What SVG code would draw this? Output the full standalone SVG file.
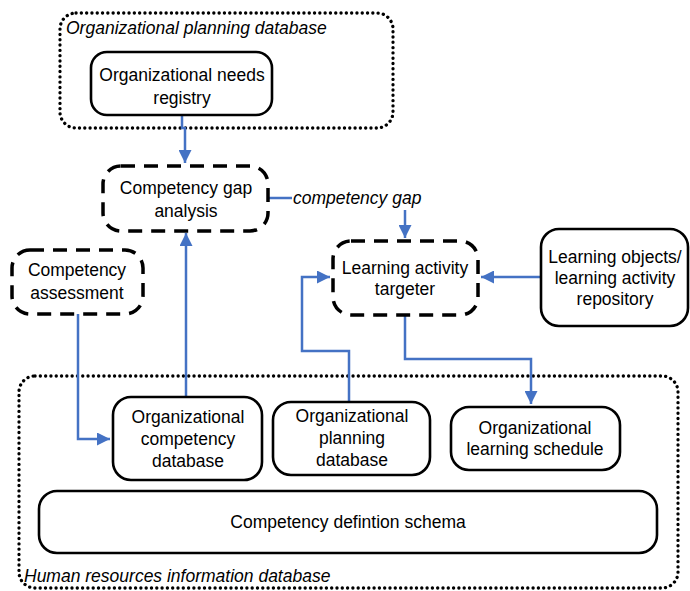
<svg xmlns="http://www.w3.org/2000/svg" width="690" height="591" viewBox="0 0 690 591">
<style>
text{font-family:"Liberation Sans",Arial,sans-serif;font-size:17.5px;fill:#000}
.t{text-anchor:middle}
.it{font-style:italic}
.solid{fill:#fff;stroke:#000;stroke-width:2.6}
.dash{fill:#fff;stroke:#000;stroke-width:3.5;stroke-dasharray:14 9}
.dot{fill:none;stroke:#000;stroke-width:3.3;stroke-dasharray:0.1 5.2;stroke-linecap:round}
.c{fill:none;stroke:#4472C4;stroke-width:2.5}
</style>
<defs>
<marker id="ah" viewBox="0 0 10 10" refX="10" refY="5" markerWidth="5.5" markerHeight="5.2" markerUnits="strokeWidth" orient="auto">
<path d="M0,0 L10,5 L0,10 z" fill="#4472C4"/>
</marker>
</defs>
<g id="planning-container">
<rect class="dot" x="60" y="13" width="333" height="115" rx="16"/>
<text class="it" x="66" y="34">Organizational planning database</text>
</g>
<g id="hr-container">
<rect class="dot" x="19" y="376" width="659" height="212" rx="16"/>
<text class="it" x="24" y="582">Human resources information database</text>
</g>
<g id="connectors">
<path class="c" d="M182,115 V128 H185 V163" marker-end="url(#ah)"/>
<path class="c" d="M268,198 H292"/>
<path class="c" d="M405,210 V238" marker-end="url(#ah)"/>
<path class="c" d="M78,314 V439 H110" marker-end="url(#ah)"/>
<path class="c" d="M186,397 V233" marker-end="url(#ah)"/>
<path class="c" d="M349,402 V351 H302 V277 H330" marker-end="url(#ah)"/>
<path class="c" d="M541,277 H481" marker-end="url(#ah)"/>
<path class="c" d="M405,315 V359 H531 V404" marker-end="url(#ah)"/>
</g>
<g id="needs-registry">
<rect class="solid" x="91" y="52" width="181" height="63" rx="16"/>
<text class="t" x="182" y="81">Organizational needs</text>
<text class="t" x="182" y="104">registry</text>
</g>
<g id="gap-analysis">
<rect class="dash" x="103" y="166" width="165" height="65" rx="18"/>
<text class="t" x="186" y="194">Competency gap</text>
<text class="t" x="186" y="217">analysis</text>
</g>
<text class="it" x="293" y="204">competency gap</text>
<g id="assessment">
<rect class="dash" x="12" y="250" width="131" height="64" rx="18"/>
<text class="t" x="77" y="276">Competency</text>
<text class="t" x="77" y="299">assessment</text>
</g>
<g id="targeter">
<rect class="dash" x="333" y="241" width="145" height="74" rx="18"/>
<text class="t" x="405" y="274">Learning activity</text>
<text class="t" x="405" y="295">targeter</text>
</g>
<g id="learning-objects">
<rect class="solid" x="541" y="229" width="147" height="97" rx="18"/>
<text class="t" x="615" y="263">Learning objects/</text>
<text class="t" x="615" y="284">learning activity</text>
<text class="t" x="615" y="305">repository</text>
</g>
<g id="competency-db">
<rect class="solid" x="113" y="397" width="149" height="83" rx="18"/>
<text class="t" x="188" y="423">Organizational</text>
<text class="t" x="188" y="445">competency</text>
<text class="t" x="188" y="467">database</text>
</g>
<g id="planning-db">
<rect class="solid" x="273" y="402" width="157" height="73" rx="18"/>
<text class="t" x="352" y="422">Organizational</text>
<text class="t" x="352" y="444">planning</text>
<text class="t" x="352" y="466">database</text>
</g>
<g id="learning-schedule">
<rect class="solid" x="451" y="407" width="169" height="63" rx="18"/>
<text class="t" x="535" y="434">Organizational</text>
<text class="t" x="535" y="455">learning schedule</text>
</g>
<g id="definition-schema">
<rect class="solid" x="39" y="491" width="618" height="62" rx="18"/>
<text class="t" x="348" y="528">Competency defintion schema</text>
</g>
</svg>
